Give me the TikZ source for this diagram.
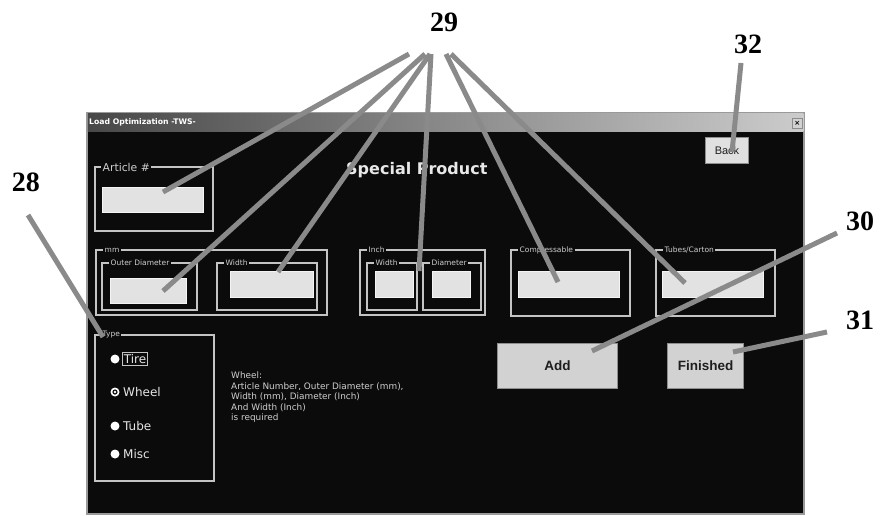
\documentclass[tikz,border=0pt]{standalone}
\usepackage{fontspec}
\setmainfont{Liberation Serif}
\newfontfamily\uifont{DejaVu Sans}
\newfontfamily\btnfont{Liberation Sans}
\definecolor{leadgray}{HTML}{8A8A8A}
\definecolor{bodyblack}{HTML}{0B0B0B}
\definecolor{edgegray}{HTML}{9A9A9A}
\definecolor{framegray}{HTML}{C4C4C4}
\definecolor{fieldgray}{HTML}{E2E2E2}
\definecolor{fieldedge}{HTML}{F4F4F4}
\definecolor{captiongray}{HTML}{CFCFCF}
\definecolor{optgray}{HTML}{E6E6E6}
\definecolor{btngray}{HTML}{D2D2D2}
\definecolor{btnedge}{HTML}{8E8E8E}
\definecolor{btntext}{HTML}{1E1E1E}
\definecolor{headgray}{HTML}{E8E8E8}
\begin{document}
\begin{tikzpicture}[x=1pt,y=-1pt,
  lead/.style={draw=leadgray,line width=5pt},
  callout/.style={font=\fontsize{28}{28}\selectfont\bfseries,inner sep=0pt},
  frame/.style={draw=framegray,line width=1.3pt,inner sep=0pt,outer sep=0pt,anchor=north west},
  field/.style={draw=fieldedge,fill=fieldgray,line width=1pt,inner sep=0pt,outer sep=0pt,anchor=north west},
  caption/.style={fill=bodyblack,text=captiongray,inner sep=1.5pt,anchor=west,font=\uifont\fontsize{7.5}{8}\selectfont},
  btn/.style={draw=btnedge,fill=btngray,line width=1pt,inner sep=0pt,anchor=north west,text=btntext},
  radio/.style={circle,fill=white,inner sep=0pt,minimum size=9pt},
  choice/.style={anchor=west,text=optgray,font=\uifont\fontsize{12}{14}\selectfont,inner sep=1pt},
]
\useasboundingbox (0,0) rectangle (880,515);
\fill[white] (0,0) rectangle (880,515);

% window body and title bar
\node[fill=bodyblack,draw=edgegray,line width=1.5pt,anchor=north west,
      minimum width=717pt,minimum height=401pt,inner sep=0pt,outer sep=0pt] (body) at (87,113) {};
\shade[left color=black!72,middle color=black!30,right color=black!20]
  (87.75,113.75) rectangle (803.25,131);
\node[anchor=west,text=white,inner sep=0pt,font=\uifont\bfseries\fontsize{7.7}{8}\selectfont] (title) at (89,122.5) {Load Optimization -TWS-};
\node[draw=black!45,fill=black!18,minimum width=10pt,minimum height=10pt,inner sep=0pt,anchor=north west,
      font=\uifont\bfseries\fontsize{7}{7}\selectfont] (closebtn) at (792,118) {×};

% heading and back button
\node[anchor=west,inner sep=0pt,text=headgray,font=\uifont\bfseries\fontsize{16}{18}\selectfont] (heading) at (346,170) {Special Product};
\node[btn,fill=black!12,minimum width=43pt,minimum height=26pt,font=\btnfont\fontsize{11}{12}\selectfont] (backbtn) at (705,137) {Back};

% article number
\node[frame,minimum width=118pt,minimum height=64pt] (artgrp) at (95,167) {};
\node[caption,font=\uifont\fontsize{10.8}{12}\selectfont] at (101,167) {Article \#};
\node[field,minimum width=101pt,minimum height=25pt] (artbox) at (102,187) {};

% millimetre group
\node[frame,minimum width=231pt,minimum height=65pt] (mmgrp) at (96,250) {};
\node[caption] at (103,250) {mm};
\node[frame,minimum width=95pt,minimum height=47pt] (odgrp) at (102,263) {};
\node[caption] at (109,263) {Outer Diameter};
\node[field,minimum width=76pt,minimum height=25pt] (odbox) at (110,278) {};
\node[frame,minimum width=100pt,minimum height=47pt] (mmwgrp) at (217,263) {};
\node[caption] at (224,263) {Width};
\node[field,minimum width=83pt,minimum height=26pt] (mmwbox) at (230,271) {};

% inch group
\node[frame,minimum width=125pt,minimum height=65pt] (inchgrp) at (360,250) {};
\node[caption] at (367,250) {Inch};
\node[frame,minimum width=50pt,minimum height=47pt] (inwgrp) at (367,263) {};
\node[caption] at (374,263) {Width};
\node[field,minimum width=38pt,minimum height=26pt] (inwbox) at (375,271) {};
\node[frame,minimum width=58pt,minimum height=47pt] (indgrp) at (423,263) {};
\node[caption] at (430,263) {Diameter};
\node[field,minimum width=38pt,minimum height=26pt] (indbox) at (432,271) {};

% compressable and tubes per carton
\node[frame,minimum width=119pt,minimum height=66pt] (compgrp) at (511,250) {};
\node[caption] at (518,250) {Compressable};
\node[field,minimum width=101pt,minimum height=26pt] (compbox) at (518,271) {};
\node[frame,minimum width=119pt,minimum height=66pt] (tubegrp) at (656,250) {};
\node[caption] at (663,250) {Tubes/Carton};
\node[field,minimum width=101pt,minimum height=26pt] (tubebox) at (662,271) {};

% product type
\node[frame,minimum width=119pt,minimum height=146pt] (typegrp) at (95,335) {};
\node[caption] at (101,335) {Type};
\node[radio] (rtire) at (115,359) {};
\node[radio] (rwheel) at (115,392) {};
\fill[bodyblack] (rwheel.center) circle (2.6);
\fill[white] (rwheel.center) circle (1.3);
\node[radio] (rtube) at (115,426) {};
\node[radio] (rmisc) at (115,454) {};
\node[choice,draw=framegray,line width=0.8pt,inner sep=1.5pt] (otire) at (122,359) {Tire};
\node[choice] (owheel) at (122,392) {Wheel};
\node[choice] (otube) at (122,426) {Tube};
\node[choice] (omisc) at (122,454) {Misc};

% hint text
\node[anchor=north west,align=left,inner sep=0pt,text=captiongray,
      font=\uifont\fontsize{8.9}{10.5}\selectfont] (note) at (231,372)
  {Wheel:\\Article Number, Outer Diameter (mm),\\Width (mm), Diameter (Inch)\\And Width (Inch)\\is required};

% action buttons
\node[btn,minimum width=120pt,minimum height=45pt,font=\btnfont\bfseries\fontsize{13.5}{15}\selectfont] (addbtn) at (497,343) {Add};
\node[btn,minimum width=76pt,minimum height=45pt,font=\btnfont\bfseries\fontsize{13.5}{15}\selectfont] (finbtn) at (667,343) {Finished};

% callout numbers
\node[callout] (n28) at (26,182) {28};
\node[callout] (n29) at (444,22) {29};
\node[callout] (n30) at (860,221) {30};
\node[callout] (n31) at (860,320) {31};
\node[callout] (n32) at (748,44) {32};

% leader line ends
\coordinate (s28) at (28,215);   \coordinate (e28) at (103,337);
\coordinate (s29a) at (409,54);  \coordinate (e29a) at (163,192);
\coordinate (s29b) at (425,54);  \coordinate (e29b) at (163,291);
\coordinate (s29c) at (430,54);  \coordinate (e29c) at (278,272);
\coordinate (s29d) at (431,54);  \coordinate (e29d) at (419,271);
\coordinate (s29e) at (446,54);  \coordinate (e29e) at (558,282);
\coordinate (s29f) at (451,54);  \coordinate (e29f) at (685,283);
\coordinate (s30) at (837,233);  \coordinate (e30) at (592,351);
\coordinate (s31) at (827,332);  \coordinate (e31) at (733,352);
\coordinate (s32) at (741,63);   \coordinate (e32) at (732,152);

% leader lines
\draw[lead] (s28) -- (e28);
\draw[lead] (s29a) -- (e29a);
\draw[lead] (s29b) -- (e29b);
\draw[lead] (s29c) -- (e29c);
\draw[lead] (s29d) -- (e29d);
\draw[lead] (s29e) -- (e29e);
\draw[lead] (s29f) -- (e29f);
\draw[lead] (s30) -- (e30);
\draw[lead] (s31) -- (e31);
\draw[lead] (s32) -- (e32);
\end{tikzpicture}
\end{document}
